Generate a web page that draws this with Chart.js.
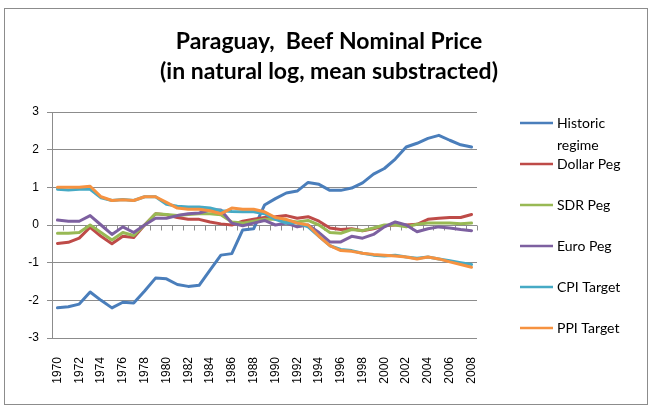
<!DOCTYPE html>
<html>
<head>
<meta charset="utf-8">
<script src="https://cdn.jsdelivr.net/npm/chart.js@4.4.1/dist/chart.umd.min.js"></script>
<style>
  html, body { margin: 0; padding: 0; background: #fff; }
  #wrap { width: 652px; height: 408px; }
</style>
</head>
<body>
<div id="wrap"><canvas id="beefChart" width="652" height="408"></canvas></div>
<script>
// Paraguay beef nominal price, log deviations from mean, 1970-2008
const years = ['1970', '1971', '1972', '1973', '1974', '1975', '1976', '1977', '1978', '1979',
	'1980', '1981', '1982', '1983', '1984', '1985', '1986', '1987', '1988', '1989',
	'1990', '1991', '1992', '1993', '1994', '1995', '1996', '1997', '1998', '1999',
	'2000', '2001', '2002', '2003', '2004', '2005', '2006', '2007', '2008'];

const historicRegime = [-2.2, -2.17, -2.1, -1.78, -2.0, -2.2, -2.05, -2.07, -1.75, -1.41,
	-1.43, -1.58, -1.63, -1.6, -1.2, -0.8, -0.76, -0.13, -0.1, 0.53,
	0.7, 0.85, 0.9, 1.13, 1.08, 0.92, 0.92, 0.98, 1.12, 1.35,
	1.5, 1.75, 2.07, 2.17, 2.3, 2.38, 2.25, 2.13, 2.07];
const dollarPeg = [-0.49, -0.46, -0.35, -0.06, -0.3, -0.5, -0.3, -0.33, 0.0, 0.3,
	0.27, 0.2, 0.15, 0.15, 0.08, 0.03, 0.0, 0.1, 0.15, 0.2,
	0.22, 0.25, 0.18, 0.22, 0.1, -0.08, -0.12, -0.1, -0.15, -0.1,
	-0.02, 0.0, 0.0, 0.02, 0.15, 0.18, 0.2, 0.2, 0.28];
const sdrPeg = [-0.22, -0.22, -0.2, 0.0, -0.2, -0.4, -0.2, -0.28, 0.0, 0.3,
	0.28, 0.25, 0.28, 0.3, 0.3, 0.27, 0.08, 0.05, 0.1, 0.15,
	0.15, 0.12, 0.08, 0.12, 0.0, -0.2, -0.22, -0.12, -0.15, -0.08,
	0.0, 0.0, -0.05, 0.02, 0.05, 0.05, 0.05, 0.03, 0.05];
const euroPeg = [0.13, 0.1, 0.1, 0.25, 0.0, -0.25, -0.05, -0.2, 0.0, 0.18,
	0.18, 0.25, 0.3, 0.32, 0.4, 0.4, 0.05, -0.02, 0.05, 0.12,
	0.0, 0.05, -0.05, 0.0, -0.2, -0.45, -0.45, -0.3, -0.35, -0.25,
	-0.05, 0.08, 0.0, -0.18, -0.1, -0.05, -0.08, -0.12, -0.15];
const cpiTarget = [0.95, 0.93, 0.95, 0.95, 0.72, 0.65, 0.68, 0.65, 0.75, 0.75,
	0.55, 0.5, 0.48, 0.48, 0.45, 0.38, 0.36, 0.35, 0.35, 0.3,
	0.15, 0.05, 0.05, -0.05, -0.3, -0.55, -0.65, -0.68, -0.75, -0.8,
	-0.82, -0.8, -0.85, -0.88, -0.85, -0.9, -0.95, -1.0, -1.05];
const ppiTarget = [1.0, 1.0, 1.0, 1.03, 0.75, 0.65, 0.67, 0.65, 0.75, 0.75,
	0.6, 0.45, 0.42, 0.42, 0.38, 0.3, 0.45, 0.42, 0.42, 0.35,
	0.2, 0.15, 0.05, 0.0, -0.3, -0.55, -0.68, -0.7, -0.75, -0.78,
	-0.8, -0.82, -0.85, -0.9, -0.85, -0.9, -0.98, -1.05, -1.12];

const seriesNames = ['Historic regime', 'Dollar Peg', 'SDR Peg', 'Euro Peg', 'CPI Target', 'PPI Target'];
const seriesColors = ['#4A7EBB', '#BE4B48', '#98B954', '#7D60A0', '#46AAC5', '#F69240'];
const seriesData = [historicRegime, dollarPeg, sdrPeg, euroPeg, cpiTarget, ppiTarget];

const titleLines = ['Paraguay,  Beef Nominal Price', '(in natural log, mean substracted)'];
const yTicks = [-3, -2, -1, 0, 1, 2, 3];

Chart.defaults.font.family = "'Liberation Sans', Arial, sans-serif";
Chart.defaults.font.size = 12;
Chart.defaults.color = '#000';

// title centred over the whole canvas, not just the plot
const centredTitle = {
	id: 'centredTitle',
	afterDraw(chart) {
		const ctx = chart.ctx;
		ctx.save();
		ctx.font = "bold 23px Lato, 'Noto Sans', sans-serif";
		ctx.fillStyle = '#000';
		ctx.textAlign = 'center';
		ctx.textBaseline = 'middle';
		titleLines.forEach(function(t, i) {
			ctx.fillText(t, 329, 42 + i * 30);
		});
		ctx.restore();
	}
};

// zero axis with small tick marks between the years
const zeroAxis = {
	id: 'zeroAxis',
	beforeDatasetsDraw(chart) {
		const ctx = chart.ctx;
		const xs = chart.scales.x;
		const y0 = Math.round(chart.scales.y.getPixelForValue(0)) + 0.5;
		ctx.save();
		ctx.strokeStyle = '#8c8c8c';
		ctx.lineWidth = 1;
		ctx.beginPath();
		ctx.moveTo(chart.chartArea.left, y0);
		ctx.lineTo(chart.chartArea.right, y0);
		for (let i = 0; i <= years.length; i++) {
			const x = Math.round(xs.getPixelForValue(i - 0.5)) + 0.5;
			ctx.moveTo(x, y0);
			ctx.lineTo(x, y0 + 5);
		}
		ctx.stroke();
		ctx.restore();
	}
};

// legend on the right, with wrapped labels
const sideLegend = {
	id: 'sideLegend',
	afterDraw(chart) {
		const ctx = chart.ctx;
		ctx.save();
		ctx.font = "14px Lato, 'Noto Sans', sans-serif";
		ctx.textBaseline = 'middle';
		ctx.fillStyle = '#000';
		chart.data.datasets.forEach(function(ds, i) {
			const y = 123 + i * 41;
			ctx.strokeStyle = ds.borderColor;
			ctx.lineWidth = 2.5;
			ctx.beginPath();
			ctx.moveTo(520, y);
			ctx.lineTo(553, y);
			ctx.stroke();
			// simple word wrap
			const words = ds.label.split(' ');
			let line = '';
			let ly = y;
			words.forEach(function(w) {
				const test = line ? line + ' ' + w : w;
				if (line && ctx.measureText(test).width > 85) {
					ctx.fillText(line, 557, ly);
					line = w;
					ly += 22;
				} else {
					line = test;
				}
			});
			ctx.fillText(line, 557, ly);
		});
		ctx.restore();
	}
};

// frame around the whole chart
const outerFrame = {
	id: 'outerFrame',
	afterDraw(chart) {
		const ctx = chart.ctx;
		ctx.save();
		ctx.strokeStyle = '#8c8c8c';
		ctx.lineWidth = 1;
		ctx.strokeRect(4.5, 8.5, 643, 396);
		ctx.restore();
	}
};

const ctx = document.getElementById('beefChart').getContext('2d');

const chart = new Chart(ctx, {
	type: 'line',
	data: {
		labels: years,
		datasets: seriesData.map(function(values, i) {
			return {
				label: seriesNames[i],
				data: values,
				borderColor: seriesColors[i],
				backgroundColor: seriesColors[i],
				borderWidth: 3,
				pointRadius: 0,
				tension: 0,
				borderJoinStyle: 'round',
				borderCapStyle: 'round',
				order: seriesData.length - 1 - i
			};
		})
	},
	options: {
		responsive: false,
		animation: false,
		layout: {
			padding: { left: 0, right: 175, top: 112, bottom: 0 }
		},
		plugins: {
			legend: { display: false },
			tooltip: { enabled: false },
			title: { display: false }
		},
		scales: {
			x: {
				offset: true,
				grid: { display: false, drawTicks: false },
				border: { display: false },
				ticks: {
					autoSkip: false,
					minRotation: 90,
					maxRotation: 90,
					padding: 19,
					font: { size: 12 },
					callback: function(value, index) {
						return index % 2 === 0 ? years[index] : '';
					}
				},
				afterFit: function(scale) { scale.height = 70; }
			},
			y: {
				min: yTicks[0],
				max: yTicks[yTicks.length - 1],
				afterBuildTicks: function(scale) {
					scale.ticks = yTicks.map(function(v) { return { value: v }; });
				},
				grid: { color: '#8c8c8c', lineWidth: 1, tickLength: 5 },
				border: { display: true, color: '#8c8c8c', width: 1 },
				ticks: { padding: 8, font: { size: 12 } },
				afterFit: function(scale) { scale.width = 52; }
			}
		}
	},
	plugins: [zeroAxis, sideLegend, outerFrame, centredTitle]
});
</script>
</body>
</html>
